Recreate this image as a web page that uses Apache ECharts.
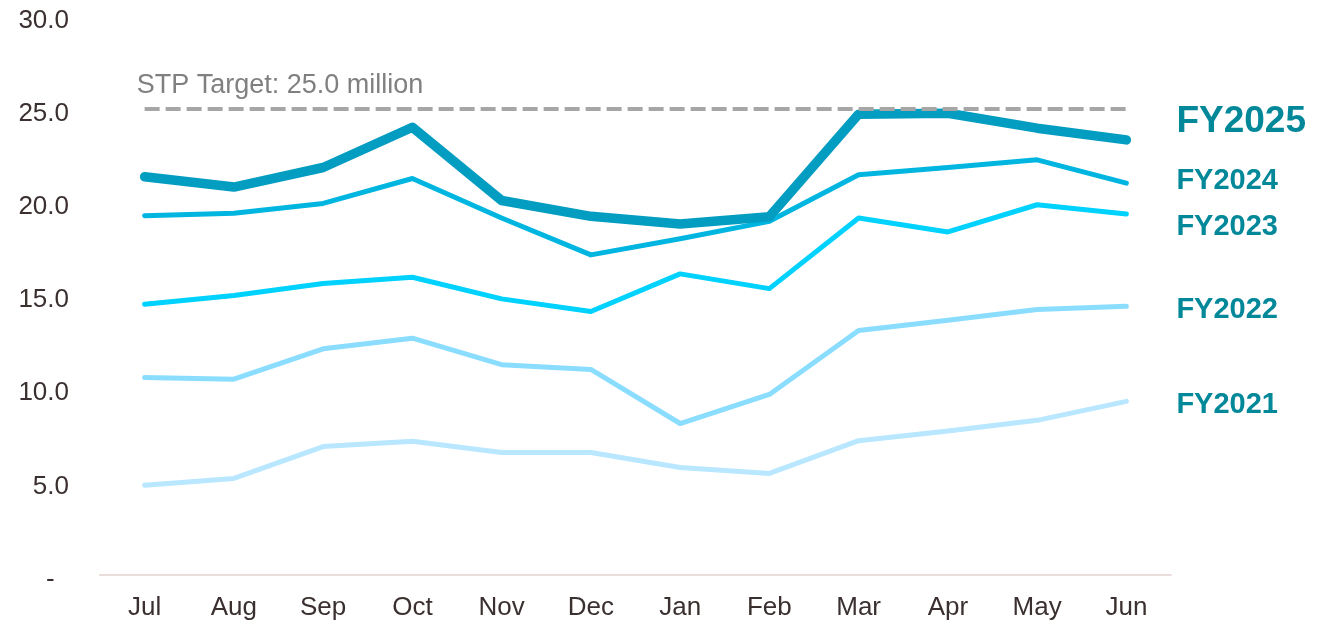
<!DOCTYPE html>
<html>
<head>
<meta charset="utf-8">
<script src="https://cdn.jsdelivr.net/npm/echarts@6/dist/echarts.min.js"></script>
<style>
html,body{margin:0;padding:0;background:#fff;}
#chart{width:1330px;height:621px;}
</style>
</head>
<body>
<div id="chart"></div>
<script>
const months = ['Jul','Aug','Sep','Oct','Nov','Dec','Jan','Feb','Mar','Apr','May','Jun'];
const fy2021 = [4.82,5.18,6.89,7.18,6.57,6.57,5.77,5.45,7.21,7.73,8.30,9.32];
const fy2022 = [10.60,10.51,12.14,12.71,11.29,11.03,8.13,9.69,13.12,13.67,14.25,14.42];
const fy2023 = [14.53,15.00,15.64,15.98,14.82,14.14,16.16,15.37,19.16,18.41,19.87,19.37];
const fy2024 = [19.28,19.41,19.94,21.28,19.16,17.18,18.05,18.98,21.48,21.87,22.28,21.03];
const fy2025 = [21.37,20.82,21.87,24.03,20.10,19.25,18.84,19.23,24.73,24.78,23.98,23.35];
const target = 25.0;
const targetLabel = 'STP Target: 25.0 million';
const yTicks = [0,5,10,15,20,25,30];

const font = '"Liberation Sans", Arial, sans-serif';
const labelColor = '#03889A';

function mkSeries(name, data, color, width, labelSize, dy, z) {
  return {
    name: name,
    type: 'line',
    data: data,
    symbol: 'none',
    z: z,
    lineStyle: {color: color, width: width, cap: 'round', join: 'round'},
    endLabel: {
      show: true,
      formatter: name,
      color: labelColor,
      fontWeight: 'bold',
      fontFamily: font,
      fontSize: labelSize,
      distance: 50,
      offset: [0, dy]
    },
    emphasis: {disabled: true}
  };
}

const chart = echarts.init(document.getElementById('chart'));
const s2025 = mkSeries('FY2025', fy2025, '#039DC1', 9.5, 37, -18, 10);
s2025.markLine = {
  silent: true,
  symbol: 'none',
  z: 20,
  lineStyle: {color: '#A6A6A6', width: 4, type: [15, 6]},
  label: {
    show: true,
    position: 'insideStartTop',
    formatter: targetLabel,
    color: '#808080',
    fontSize: 27,
    fontFamily: font,
    distance: [-8, 10]
  },
  data: [[{coord: [months[0], target]}, {coord: [months[months.length-1], target]}]]
};

chart.setOption({
  animation: false,
  backgroundColor: '#ffffff',
  grid: {left: 100, right: 159, top: 16, bottom: 45, containLabel: false},
  xAxis: {
    type: 'category',
    data: months,
    boundaryGap: true,
    axisTick: {show: false},
    axisLine: {lineStyle: {color: '#E9DEDB', width: 2}},
    axisLabel: {color: '#3B3030', fontSize: 26, fontFamily: font, margin: 20}
  },
  yAxis: {
    type: 'value',
    min: yTicks[0],
    max: yTicks[yTicks.length-1],
    interval: 5,
    splitLine: {show: false},
    axisLine: {show: false},
    axisTick: {show: false},
    axisLabel: {
      color: '#3B3030', fontSize: 26, fontFamily: font, margin: 31,
      formatter: function (v) { return '{a|' + (v === 0 ? '-  ' : v.toFixed(1)) + '}'; },
      rich: {a: {color: '#3B3030', fontSize: 26, fontFamily: font, padding: [9, 0, 0, 0]}}
    }
  },
  series: [
    mkSeries('FY2021', fy2021, '#B8E7FF', 5, 29, 4, 2),
    mkSeries('FY2022', fy2022, '#8ADDFF', 5, 29, 4, 3),
    mkSeries('FY2023', fy2023, '#00D2FF', 5, 29, 13, 4),
    mkSeries('FY2024', fy2024, '#00B6E0', 5, 29, -2, 5),
    s2025
  ]
});
</script>
</body>
</html>
